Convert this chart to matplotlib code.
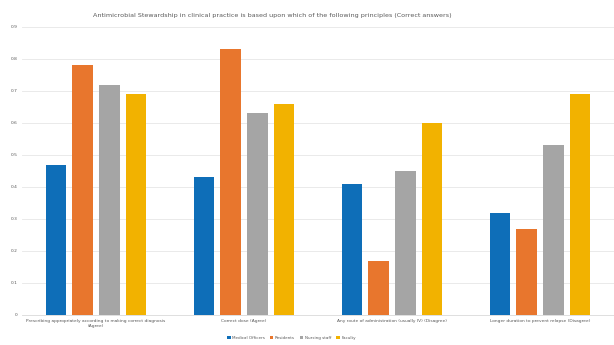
import matplotlib
matplotlib.use("Agg")
import matplotlib.pyplot as plt
import numpy as np

categories = [
    "Prescribing appropriately according to making correct diagnosis\n(Agree)",
    "Correct dose (Agree)",
    "Any route of administration (usually IV) (Disagree)",
    "Longer duration to prevent relapse (Disagree)",
]
series_names = ["Medical Officers", "Residents", "Nursing staff", "Faculty"]
medical_officers = [0.47, 0.43, 0.41, 0.32]
residents = [0.78, 0.83, 0.17, 0.27]
nursing_staff = [0.72, 0.63, 0.45, 0.53]
faculty = [0.69, 0.66, 0.60, 0.69]
y_ticks = [0, 0.1, 0.2, 0.3, 0.4, 0.5, 0.6, 0.7, 0.8, 0.9]

colors = ["#0E6EB8", "#E8762D", "#A5A5A5", "#F2B200"]

fig = plt.figure(figsize=(6.14, 3.45), dpi=100)
ax = fig.add_axes([0.036, 0.087, 0.964, 0.835])

x = np.arange(len(categories))
width = 0.14
step = 0.18
for i, (vals, name) in enumerate(zip([medical_officers, residents, nursing_staff, faculty], series_names)):
    ax.bar(x + (i - 1.5) * step, vals, width, color=colors[i], label=name, zorder=3)

ax.set_xlim(-0.5, len(categories) - 0.5)
ax.set_ylim(0, 0.9)
ax.set_yticks(y_ticks)
ax.set_yticklabels([f"{t:g}" for t in y_ticks])
ax.set_xticks(x)
ax.set_xticklabels(categories)
ax.tick_params(axis="both", length=0, labelsize=3.2, colors="#595959", pad=3)
ax.grid(axis="y", color="#E6E6E6", linewidth=0.6, zorder=0)
for s in ["top", "right", "left"]:
    ax.spines[s].set_visible(False)
ax.spines["bottom"].set_color("#D9D9D9")
ax.spines["bottom"].set_linewidth(0.6)

fig.text(0.443, 0.955, "Antimicrobial Stewardship in clinical practice is based upon which of the following principles (Correct answers)",
         ha="center", va="center", fontsize=4.6, color="#595959")

fig.legend(loc="center", bbox_to_anchor=(0.475, 0.02), ncol=4, fontsize=3.0, frameon=False,
           handlelength=0.8, handleheight=0.8, columnspacing=1.2, handletextpad=0.4,
           labelcolor="#595959")

fig.savefig("out.png", dpi=100)
